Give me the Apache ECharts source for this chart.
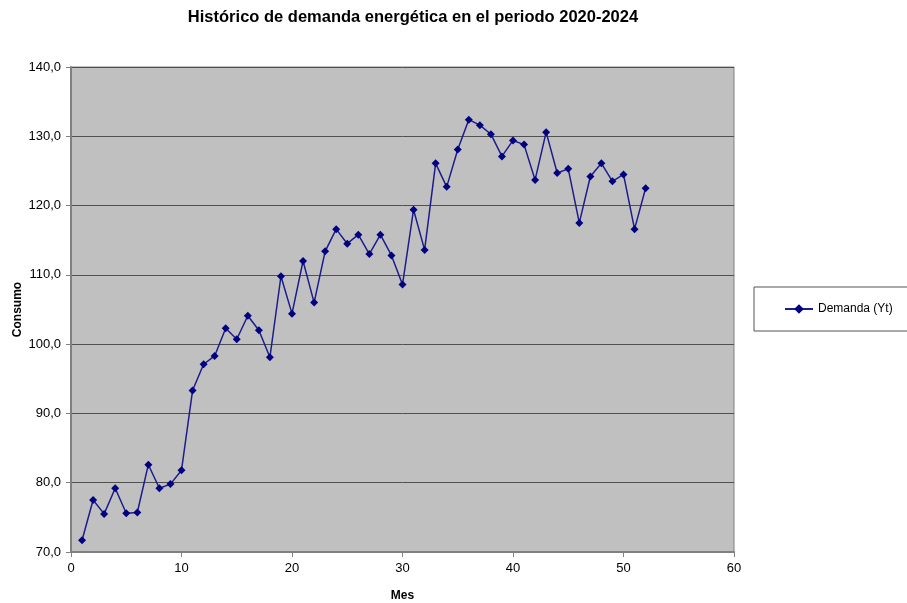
<!DOCTYPE html>
<html>
<head>
<meta charset="utf-8">
<script src="https://cdn.jsdelivr.net/npm/echarts@6/dist/echarts.min.js"></script>
<style>
  html, body { margin: 0; padding: 0; background: #ffffff; }
  #chart { width: 907px; height: 603px; }
</style>
</head>
<body>
<div id="chart"></div>
<script>
// Monthly energy demand, months 1..52
const months = [
  1, 2, 3, 4, 5, 6, 7, 8, 9, 10,
  11, 12, 13, 14, 15, 16, 17, 18, 19, 20,
  21, 22, 23, 24, 25, 26, 27, 28, 29, 30,
  31, 32, 33, 34, 35, 36, 37, 38, 39, 40,
  41, 42, 43, 44, 45, 46, 47, 48, 49, 50,
  51, 52
];
const demand = [
  71.7, 77.5, 75.5, 79.2, 75.6, 75.7, 82.6, 79.2, 79.8, 81.8,
  93.3, 97.1, 98.3, 102.3, 100.7, 104.1, 102.0, 98.1, 109.8, 104.4,
  112.0, 106.0, 113.4, 116.6, 114.5, 115.8, 113.0, 115.8, 112.8, 108.6,
  119.4, 113.6, 126.1, 122.7, 128.1, 132.4, 131.6, 130.3, 127.1, 129.4,
  128.8, 123.7, 130.6, 124.7, 125.3, 117.5, 124.2, 126.1, 123.5, 124.5,
  116.6, 122.5
];
const seriesName = 'Demanda (Yt)';
const chartTitle = 'Histórico de demanda energética en el periodo 2020-2024';
const xAxisTitle = 'Mes';
const yAxisTitle = 'Consumo';

const points = months.map((m, i) => [m, demand[i]]);
const font = '"Liberation Sans", Arial, sans-serif';

const chart = echarts.init(document.getElementById('chart'), null, { renderer: 'canvas' });
chart.setOption({
  animation: false,
  backgroundColor: '#ffffff',
  textStyle: { fontFamily: font },
  title: {
    text: chartTitle,
    left: 408,
    top: 4,
    textAlign: 'center',
    textStyle: { fontFamily: font, fontSize: 16.5, fontWeight: 'bold', color: '#000' }
  },
  grid: {
    left: 71, right: 173, top: 67, bottom: 51,
    containLabel: false,
    outerBoundsMode: 'none',
    show: true,
    backgroundColor: '#c0c0c0',
    borderColor: '#808080',
    borderWidth: 1
  },
  legend: {
    left: 754,
    top: 287,
    orient: 'vertical',
    padding: [16, 40, 16, 30],
    itemWidth: 28,
    itemHeight: 12,
    itemGap: 4,
    borderColor: '#555',
    borderWidth: 1,
    backgroundColor: '#ffffff',
    textStyle: { fontFamily: font, fontSize: 12, color: '#000' },
    data: [seriesName]
  },
  xAxis: {
    type: 'value',
    min: 0, max: 60, interval: 10,
    name: xAxisTitle,
    nameLocation: 'middle',
    nameGap: 38,
    nameMoveOverlap: false,
    nameTextStyle: { fontFamily: font, fontSize: 12, fontWeight: 'bold', color: '#000' },
    axisLine: { show: true, lineStyle: { color: '#808080', width: 2 } },
    axisTick: { show: true, length: 5, lineStyle: { color: '#808080' } },
    axisLabel: { fontFamily: font, fontSize: 13, color: '#000', margin: 10 },
    splitLine: { show: false }
  },
  yAxis: {
    type: 'value',
    min: 70, max: 140, interval: 10,
    name: yAxisTitle,
    nameLocation: 'middle',
    nameGap: 47,
    nameRotate: 90,
    nameMoveOverlap: false,
    nameTextStyle: { fontFamily: font, fontSize: 12, fontWeight: 'bold', color: '#000' },
    axisLine: { show: true, lineStyle: { color: '#808080', width: 2 } },
    axisTick: { show: true, length: 5, lineStyle: { color: '#808080' } },
    axisLabel: {
      fontFamily: font, fontSize: 13, color: '#000', margin: 10,
      formatter: v => v.toFixed(1).replace('.', ',')
    },
    splitLine: { show: true, lineStyle: { color: '#505050', width: 1 } }
  },
  series: [{
    name: seriesName,
    type: 'line',
    data: points,
    symbol: 'diamond',
    symbolSize: 8,
    itemStyle: { color: '#000080' },
    lineStyle: { color: '#1c1c8c', width: 1.5 }
  }]
});
</script>
</body>
</html>
